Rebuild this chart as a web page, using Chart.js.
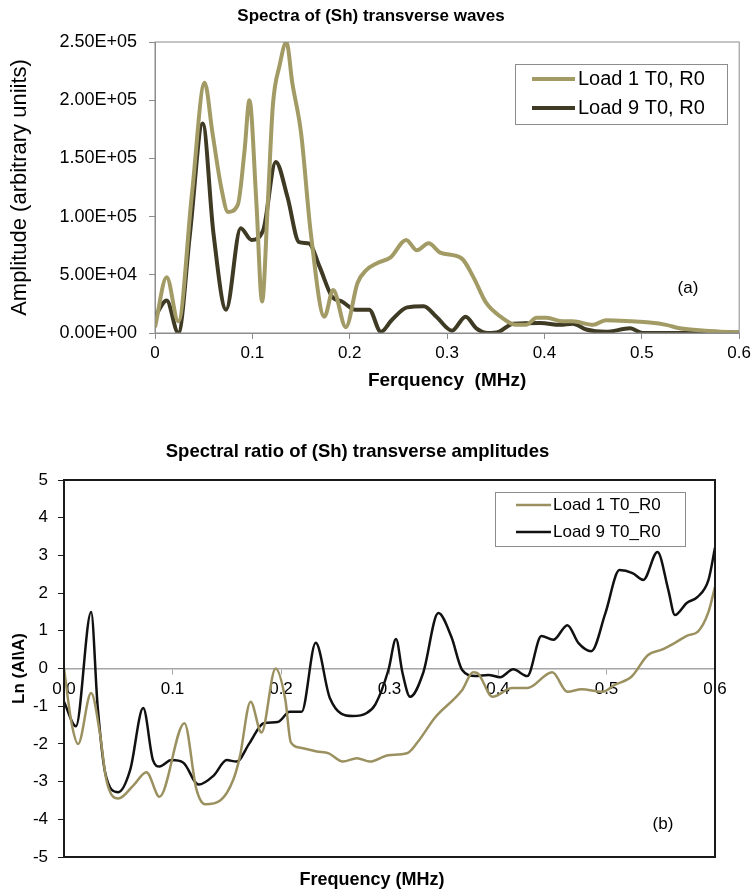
<!DOCTYPE html>
<html>
<head>
<meta charset="utf-8">
<script src="https://cdn.jsdelivr.net/npm/chart.js@4.4.1/dist/chart.umd.min.js"></script>
<style>
  html, body { margin: 0; padding: 0; background: #fff; }
  #wrap { position: relative; width: 755px; height: 891px; }
  .box { position: absolute; left: 0; width: 755px; }
</style>
</head>
<body>
<div id="wrap">
  <div class="box" style="top:0;height:400px"><canvas id="chartA"></canvas></div>
  <div class="box" style="top:430px;height:461px"><canvas id="chartB"></canvas></div>
</div>
<script>
// (a) spectra - frequency (MHz) / amplitude
const load1SpecFreq = [0, 0.012, 0.024, 0.038, 0.051, 0.059, 0.068, 0.075, 0.085, 0.092, 0.097, 0.104, 0.11, 0.116, 0.121, 0.128, 0.135, 0.141, 0.15, 0.16, 0.174, 0.183, 0.196, 0.208, 0.217, 0.228, 0.242, 0.258, 0.269, 0.281, 0.293, 0.315, 0.327, 0.34, 0.355, 0.371, 0.381, 0.392, 0.402, 0.419, 0.429, 0.45, 0.463, 0.49, 0.508, 0.525, 0.539, 0.565, 0.6];
const load1SpecAmp = [5000, 48000, 10000, 120000, 215000, 172000, 125000, 104000, 110000, 157000, 200000, 114000, 27000, 114000, 195000, 230000, 250000, 215000, 172000, 86000, 14000, 37000, 5000, 43000, 54000, 60000, 65000, 80000, 71000, 77000, 69000, 64000, 48000, 26000, 14000, 7000, 7000, 13000, 13000, 10000, 10000, 7000, 11000, 10000, 9000, 7000, 4000, 2000, 500];
const load9SpecFreq = [0, 0.012, 0.024, 0.036, 0.049, 0.06, 0.073, 0.088, 0.099, 0.111, 0.124, 0.136, 0.148, 0.158, 0.169, 0.182, 0.192, 0.206, 0.22, 0.232, 0.243, 0.259, 0.276, 0.289, 0.305, 0.319, 0.33, 0.342, 0.353, 0.368, 0.396, 0.416, 0.429, 0.443, 0.463, 0.488, 0.501, 0.53, 0.565, 0.6];
const load9SpecAmp = [14000, 28000, 0, 86000, 180000, 86000, 20000, 90000, 80000, 88000, 147000, 117000, 78000, 77000, 57000, 31000, 27000, 20000, 20000, 1000, 11000, 22000, 23000, 14000, 2000, 14000, 4000, 0, 1000, 8000, 8500, 7000, 8000, 3000, 1000, 4000, 0, 0, 1000, 500];
const specTicksY = [0, 50000, 100000, 150000, 200000, 250000];

// (b) spectral ratio - frequency (MHz) / Ln
const load1RatioFreq = [0, 0.007, 0.013, 0.025, 0.033, 0.039, 0.05, 0.064, 0.076, 0.088, 0.111, 0.122, 0.13, 0.144, 0.156, 0.162, 0.172, 0.182, 0.195, 0.204, 0.209, 0.218, 0.233, 0.244, 0.257, 0.27, 0.282, 0.299, 0.316, 0.326, 0.342, 0.367, 0.377, 0.381, 0.395, 0.413, 0.427, 0.45, 0.464, 0.477, 0.496, 0.508, 0.523, 0.538, 0.551, 0.563, 0.575, 0.584, 0.594, 0.6];
const load1RatioLn = [0, -1.45, -2.0, -0.65, -1.7, -2.95, -3.45, -3.1, -2.75, -3.4, -1.45, -3.2, -3.6, -3.5, -2.95, -2.35, -0.88, -1.7, 0.0, -0.83, -1.95, -2.1, -2.2, -2.25, -2.47, -2.38, -2.47, -2.3, -2.25, -1.95, -1.3, -0.57, -0.1, -0.12, -0.75, -0.52, -0.52, -0.1, -0.62, -0.55, -0.62, -0.43, -0.22, 0.35, 0.5, 0.68, 0.88, 0.97, 1.5, 2.17];
const load9RatioFreq = [0, 0.011, 0.025, 0.031, 0.038, 0.05, 0.061, 0.073, 0.082, 0.088, 0.099, 0.11, 0.124, 0.138, 0.15, 0.159, 0.171, 0.184, 0.197, 0.208, 0.219, 0.232, 0.245, 0.266, 0.279, 0.287, 0.299, 0.306, 0.312, 0.319, 0.331, 0.345, 0.357, 0.367, 0.379, 0.391, 0.402, 0.414, 0.427, 0.44, 0.451, 0.464, 0.474, 0.486, 0.499, 0.512, 0.524, 0.534, 0.547, 0.557, 0.563, 0.574, 0.584, 0.594, 0.6];
const load9RatioLn = [-0.88, -1.53, 1.5, -1.0, -2.77, -3.28, -2.69, -1.05, -2.43, -2.6, -2.43, -2.5, -3.08, -2.84, -2.43, -2.47, -1.98, -1.45, -1.42, -1.15, -1.15, 0.68, -0.78, -1.26, -1.18, -0.95, -0.04, 0.78, -0.12, -0.75, -0.12, 1.47, 0.84, -0.04, -0.2, -0.17, -0.23, -0.02, -0.2, 0.86, 0.76, 1.15, 0.68, 0.46, 1.47, 2.61, 2.53, 2.35, 3.09, 2.08, 1.42, 1.74, 1.9, 2.35, 3.2];

const FONT = '"Liberation Sans", Arial, sans-serif';
Chart.defaults.font.family = FONT;
Chart.defaults.color = '#000';

function pontos(xs, ys) {
    return xs.map((x, i) => ({ x: x, y: ys[i] }));
}

// 2.50E+05 style labels
function sci(v) {
    if (v === 0) return '0.00E+00';
    const e = Math.floor(Math.log10(v));
    const m = v / Math.pow(10, e);
    return m.toFixed(2) + 'E+' + String(e).padStart(2, '0');
}

// frame, boxed legend and loose texts
const extras = {
    id: 'extras',
    afterDraw(chart, args, opts) {
        const ctx = chart.ctx;
        const a = chart.chartArea;
        ctx.save();
        ctx.strokeStyle = opts.frameColor;
        ctx.lineWidth = opts.frameWidth;
        ctx.strokeRect(a.left, a.top, a.right - a.left, a.bottom - a.top);

        const lg = opts.legend;
        ctx.fillStyle = '#fff';
        ctx.fillRect(lg.x, lg.y, lg.w, lg.h);
        ctx.strokeStyle = '#8c8c8c';
        ctx.lineWidth = 1;
        ctx.strokeRect(lg.x + 0.5, lg.y + 0.5, lg.w, lg.h);
        ctx.font = lg.size + 'px ' + FONT;
        ctx.textBaseline = 'middle';
        ctx.textAlign = 'left';
        chart.data.datasets.forEach((ds, i) => {
            const y = lg.y + lg.rowTop + i * lg.rowGap;
            ctx.strokeStyle = ds.borderColor;
            ctx.lineWidth = ds.borderWidth;
            ctx.beginPath();
            ctx.moveTo(lg.x + lg.lineFrom, y);
            ctx.lineTo(lg.x + lg.lineTo, y);
            ctx.stroke();
            ctx.fillStyle = '#000';
            ctx.fillText(ds.label, lg.x + lg.textAt, y);
        });

        (opts.texts || []).forEach(t => {
            ctx.font = (t.bold ? 'bold ' : '') + t.size + 'px ' + FONT;
            ctx.textAlign = 'center';
            ctx.fillStyle = '#000';
            ctx.fillText(t.text, t.x, t.y);
        });
        ctx.restore();
    }
};

// 1. Spectra chart (a)
new Chart(document.getElementById('chartA'), {
    type: 'line',
    data: {
        datasets: [
            { label: 'Load 1 T0, R0', data: pontos(load1SpecFreq, load1SpecAmp), borderColor: '#a39b65', borderWidth: 4 },
            { label: 'Load 9 T0, R0', data: pontos(load9SpecFreq, load9SpecAmp), borderColor: '#3e3a24', borderWidth: 4 }
        ]
    },
    options: {
        responsive: true,
        maintainAspectRatio: false,
        animation: false,
        elements: { point: { radius: 0 }, line: { cubicInterpolationMode: 'monotone' } },
        layout: { padding: { left: 0, right: 13, top: 0, bottom: 0 } },
        plugins: {
            legend: { display: false },
            tooltip: { enabled: false },
            title: { display: true, text: 'Spectra of (Sh) transverse waves', font: { size: 17, weight: 'bold' }, padding: { top: 6, bottom: 15.6 } },
            extras: {
                frameColor: '#8c8c8c', frameWidth: 1,
                legend: { x: 515, y: 64, w: 212, h: 60, rowTop: 15, rowGap: 29, lineFrom: 17, lineTo: 60, textAt: 63, size: 20 },
                texts: [{ text: '(a)', x: 688, y: 288, size: 17 }]
            }
        },
        scales: {
            x: {
                type: 'linear', min: 0, max: 0.6,
                afterFit(s) { s.height = 67; },
                grid: { drawOnChartArea: false, tickLength: 6, color: '#8c8c8c' },
                border: { color: '#8c8c8c' },
                ticks: { stepSize: 0.1, padding: 4, font: { size: 17 }, callback: v => v === 0 ? '0' : v.toFixed(1) },
                title: { display: true, text: 'Ferquency  (MHz)', font: { size: 19, weight: 'bold' }, padding: { top: 0, bottom: 8 } }
            },
            y: {
                min: 0, max: 250000,
                afterFit(s) { s.width = 155; },
                afterBuildTicks(s) { s.ticks = specTicksY.map(v => ({ value: v })); },
                grid: { drawOnChartArea: false, tickLength: 6, color: '#8c8c8c' },
                border: { color: '#8c8c8c' },
                ticks: { padding: 12, font: { size: 18 }, callback: v => sci(v) },
                title: { display: true, text: 'Amplitude (arbitrary uniits)', font: { size: 22 }, padding: { top: 7, bottom: 0 } }
            }
        }
    },
    plugins: [extras]
});

// 2. Spectral ratio chart (b)
new Chart(document.getElementById('chartB'), {
    type: 'line',
    data: {
        datasets: [
            { label: 'Load 1 T0_R0', data: pontos(load1RatioFreq, load1RatioLn), borderColor: '#9b9160', borderWidth: 2.5 },
            { label: 'Load 9 T0_R0', data: pontos(load9RatioFreq, load9RatioLn), borderColor: '#111111', borderWidth: 2.5 }
        ]
    },
    options: {
        responsive: true,
        maintainAspectRatio: false,
        animation: false,
        elements: { point: { radius: 0 }, line: { cubicInterpolationMode: 'monotone' } },
        layout: { padding: { left: 0, right: 40, top: 0, bottom: 34 } },
        plugins: {
            legend: { display: false },
            tooltip: { enabled: false },
            title: { display: true, text: 'Spectral ratio of (Sh) transverse amplitudes', font: { size: 18.5, weight: 'bold' }, padding: { top: 11, bottom: 16.8 } },
            extras: {
                frameColor: '#1a1a1a', frameWidth: 2,
                legend: { x: 495, y: 62, w: 190, h: 54, rowTop: 13, rowGap: 27, lineFrom: 21, lineTo: 56, textAt: 58, size: 17 },
                texts: [
                    { text: '(b)', x: 663, y: 394, size: 17 },
                    { text: 'Frequency (MHz)', x: 372, y: 450, size: 18, bold: true }
                ]
            }
        },
        scales: {
            x: {
                type: 'linear', min: 0, max: 0.6,
                position: { y: 0 },
                grid: { drawOnChartArea: false, tickLength: 5, color: '#a6a6a6' },
                border: { color: '#a6a6a6', width: 1.5 },
                ticks: { stepSize: 0.1, padding: 6, font: { size: 17 }, callback: v => v.toFixed(1) }
            },
            y: {
                min: -5, max: 5,
                afterFit(s) { s.width = 64; },
                grid: { drawOnChartArea: false, tickLength: 6, color: '#1a1a1a' },
                border: { color: '#1a1a1a', width: 2 },
                ticks: { stepSize: 1, padding: 10, font: { size: 17 } },
                title: { display: true, text: 'Ln (AI\\A)', font: { size: 17, weight: 'bold' }, padding: { top: 9, bottom: 0 } }
            }
        }
    },
    plugins: [extras]
});
</script>
</body>
</html>
